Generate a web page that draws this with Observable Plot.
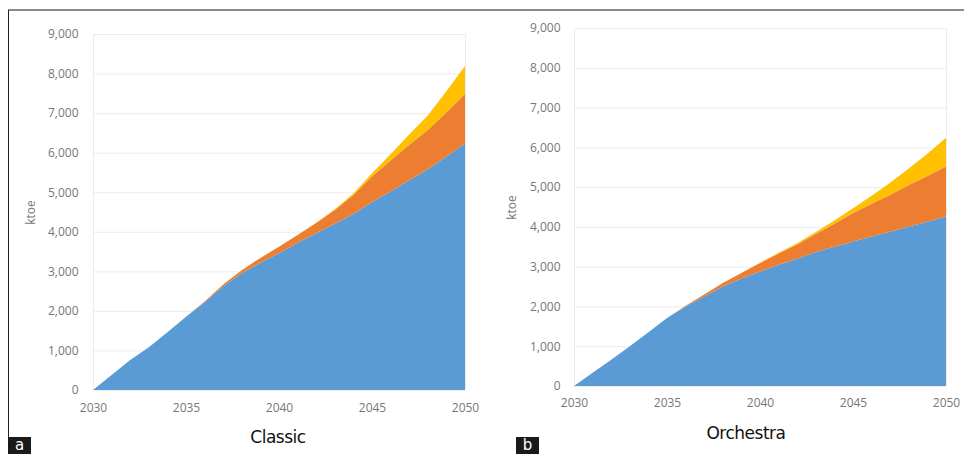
<!DOCTYPE html>
<html>
<head>
<meta charset="utf-8">
<script src="https://cdn.jsdelivr.net/npm/d3@7"></script>
<script src="https://cdn.jsdelivr.net/npm/@observablehq/plot@0.6"></script>
<style>
  html, body { margin: 0; padding: 0; background: #fff; }
  #root { position: relative; width: 964px; height: 454px; overflow: hidden; font-family: "Open Sans", "DejaVu Sans", sans-serif; }
  .panel { position: absolute; top: 0; }
  .topline { position: absolute; left: 8px; top: 9px; width: 956px; height: 2px; background: #8a8a8a; }
  .leftline { position: absolute; left: 8px; top: 10px; width: 1px; height: 428px; background: #222; }
  .tag { position: absolute; top: 437px; width: 23px; height: 17px; background: #1a1a1a; color: #fff; font-family: "DejaVu Sans", sans-serif; font-size: 15px; line-height: 16px; text-align: center; overflow: hidden; }
  .title { position: absolute; font-family: "DejaVu Sans", sans-serif; font-size: 17px; color: #111; transform: translateX(-50%); letter-spacing: -0.5px; }
</style>
</head>
<body>
<div id="root">
  <div class="topline"></div>
  <div class="leftline"></div>
  <div id="pa" class="panel" style="left:0px"></div>
  <div id="pb" class="panel" style="left:484px"></div>
  <div class="tag" style="left:8px">a</div>
  <div class="tag" style="left:516px">b</div>
  <div class="title" style="left:278px; top:427px">Classic</div>
  <div class="title" style="left:746px; top:423px">Orchestra</div>
</div>
<script>
const years = d3.range(2030, 2051);
const seriesNames = ["Series 1", "Series 2", "Series 3"];
const seriesColors = ["#5b9bd5", "#ed7d31", "#ffc000"];
const yTicks = [0, 1000, 2000, 3000, 4000, 5000, 6000, 7000, 8000, 9000];
const xTicks = [2030, 2035, 2040, 2045, 2050];

const classicBlue   = [0, 380, 760, 1080, 1460, 1850, 2220, 2620, 2950, 3220, 3460, 3720, 3960, 4200, 4450, 4750, 5020, 5300, 5580, 5900, 6230];
const classicOrange = [0, 0, 0, 0, 0, 0, 20, 50, 80, 120, 160, 200, 260, 350, 480, 650, 780, 900, 990, 1120, 1250];
const classicYellow = [0, 0, 0, 0, 0, 0, 0, 0, 0, 0, 0, 0, 10, 20, 40, 80, 160, 260, 370, 530, 710];

const orchBlue   = [0, 330, 660, 1000, 1350, 1710, 2000, 2250, 2500, 2700, 2880, 3050, 3200, 3370, 3500, 3630, 3760, 3880, 4010, 4130, 4260];
const orchOrange = [0, 0, 0, 0, 0, 0, 20, 50, 90, 140, 210, 280, 360, 450, 580, 720, 820, 930, 1040, 1150, 1260];
const orchYellow = [0, 0, 0, 0, 0, 0, 0, 0, 0, 0, 10, 20, 30, 50, 80, 120, 200, 300, 420, 560, 720];

function toRows(blue, orange, yellow) {
  const rows = [];
  const arrs = [blue, orange, yellow];
  arrs.forEach((arr, si) => years.forEach((yr, i) => rows.push({year: yr, value: arr[i], series: seriesNames[si]})));
  return rows;
}

function makePlot(rows, opts) {
  return Plot.plot({
    width: 480,
    height: 420,
    marginLeft: opts.ml,
    marginRight: opts.mr,
    marginTop: opts.mt,
    marginBottom: opts.mb,
    style: {fontFamily: "'Open Sans', 'DejaVu Sans', sans-serif", fontSize: "12px", color: "#777", background: "transparent"},
    x: {domain: [2030, 2050], ticks: xTicks, tickFormat: d => String(d), tickSize: 0, tickPadding: opts.xpad, label: null},
    y: {domain: [0, 9000], ticks: yTicks, tickFormat: d3.format(","), tickSize: 0, tickPadding: opts.ypad, label: "ktoe", labelAnchor: "center", labelOffset: 67, labelArrow: "none"},
    color: {domain: seriesNames, range: seriesColors},
    marks: [
      Plot.ruleY(yTicks, {stroke: "#ececec", strokeWidth: 1}),
      Plot.ruleX([2030, 2050], {stroke: "#ececec", strokeWidth: 1}),
      Plot.areaY(rows, {x: "year", y: "value", z: "series", fill: "series", order: seriesNames, curve: "linear"})
    ]
  });
}

document.getElementById("pa").appendChild(makePlot(toRows(classicBlue, classicOrange, classicYellow), {ml: 93, mr: 15, mt: 34, mb: 30, xpad: 13, ypad: 15}));
document.getElementById("pb").appendChild(makePlot(toRows(orchBlue, orchOrange, orchYellow), {ml: 90, mr: 18, mt: 28, mb: 34, xpad: 12, ypad: 14}));
</script>
</body>
</html>
